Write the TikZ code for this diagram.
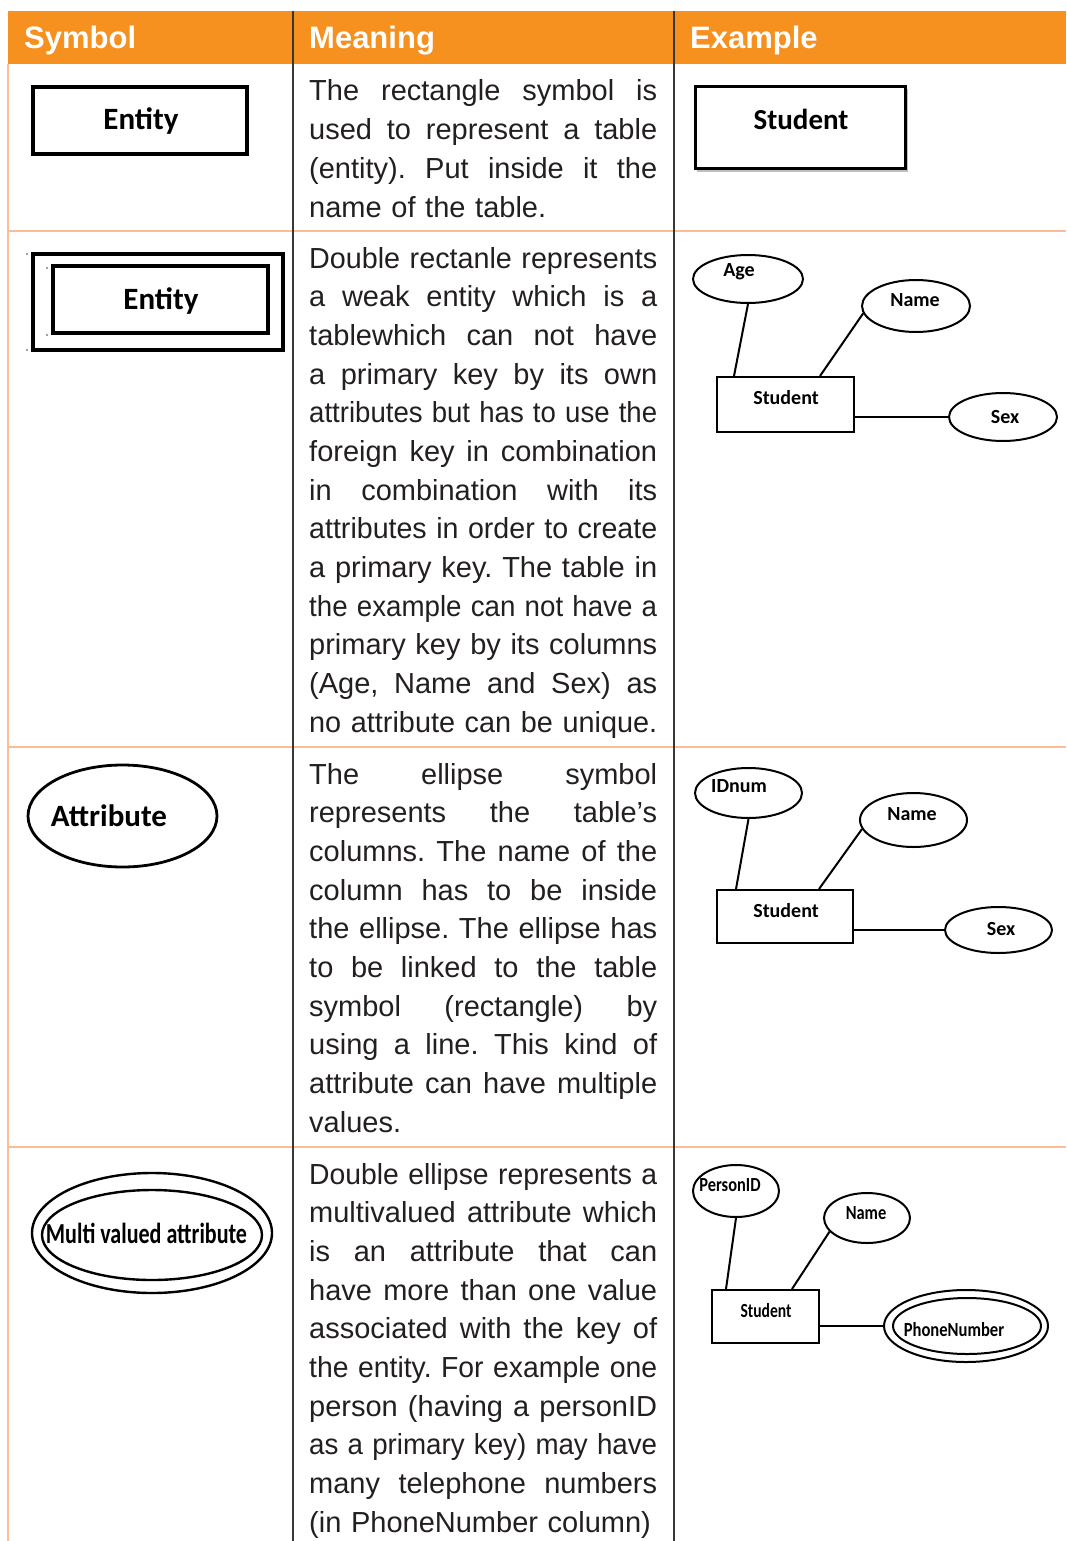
\documentclass[tikz,border=0pt]{standalone}
\usepackage{fontspec}
\setmainfont{Liberation Sans}
\newfontfamily\calib{Carlito}
\usepackage{graphicx}
\usetikzlibrary{shapes.geometric}

\definecolor{hdr}{RGB}{246,144,30}
\definecolor{peach}{RGB}{250,190,150}
\definecolor{rulec}{RGB}{55,55,55}
\definecolor{txt}{RGB}{35,31,32}

\frenchspacing
\newlength\colw \setlength\colw{348pt}
\newlength\lw
\newcommand\jl[1]{\leavevmode\settowidth\lw{#1}\ifdim\lw>\colw\scalebox{\fpeval{\number\colw/\number\lw}}[1]{#1}\else\hbox to\colw{\spaceskip=0.278em plus 1fil\relax\xspaceskip=\spaceskip #1}\fi}
\newcommand\el[1]{\leavevmode\settowidth\lw{#1}\ifdim\lw>\colw\scalebox{\fpeval{\number\colw/\number\lw}}[1]{#1}\else\hbox to\colw{#1\hfil}\fi}

\tikzset{
  box/.style 2 args={minimum width=#1pt, minimum height=#2pt},
  ent/.style={draw, rectangle, line width=2pt, inner sep=0pt},
  sym/.style={draw, rectangle, line width=3.2pt, inner sep=0pt},
  att/.style={draw, ellipse, line width=2pt, inner sep=0pt},
  symatt/.style={draw, ellipse, line width=2.8pt, inner sep=0pt},
  link/.style={line width=2pt},
  lbl/.style={inner sep=0pt, font=\calib\bfseries\fontsize{20pt}{20pt}\selectfont},
  biglbl/.style={inner sep=0pt, font=\calib\bfseries\fontsize{31pt}{31pt}\selectfont},
  hd/.style={inner sep=0pt, anchor=base west, text=white, font=\bfseries\fontsize{31pt}{31pt}\selectfont},
  body/.style={inner sep=0pt, anchor=base west, text width=\colw, align=left, text=txt,
     font=\fontsize{29pt}{38.67pt}\selectfont},
  prow/.style={draw=peach, line width=1.5pt},
  pcol/.style={draw=rulec, line width=1.3pt},
}

\begin{document}
\begin{tikzpicture}[x=1pt, y=-1pt]
\useasboundingbox (0,0) rectangle (1066,1541);
\fill[white] (0,0) rectangle (1066,1541);

% header
\fill[hdr] (8,11) rectangle (1066,64);
\node[hd] (h1) at (24,49) {Symbol};
\node[hd] (h2) at (309,49) {Meaning};
\node[hd] (h3) at (690,49) {Example};

% grid
\draw[prow] (8,64) -- (8,1541);
\draw[prow] (8,231) -- (1066,231);
\draw[prow] (8,747) -- (1066,747);
\draw[prow] (8,1147) -- (1066,1147);
\draw[pcol] (293,11) -- (293,1541);
\draw[pcol] (674,11) -- (674,1541);

% meaning texts
\node[body] (m1) at (309,101) {\jl{The rectangle symbol is}\\
\jl{used to represent a table}\\
\jl{(entity). Put inside it the}\\
\el{name of the table.}};

\node[body] (m2) at (309,268) {\jl{Double rectanle represents}\\
\jl{a weak entity which is a}\\
\jl{tablewhich can not have}\\
\jl{a primary key by its own}\\
\jl{attributes but has to use the}\\
\jl{foreign key in combination}\\
\jl{in combination with its}\\
\jl{attributes in order to create}\\
\jl{a primary key. The table in}\\
\jl{the example can not have a}\\
\jl{primary key by its columns}\\
\jl{(Age, Name and Sex) as}\\
\jl{no attribute can be unique.}};

\node[body] (m3) at (309,784) {\jl{The ellipse symbol}\\
\jl{represents the table’s}\\
\jl{columns. The name of the}\\
\jl{column has to be inside}\\
\jl{the ellipse. The ellipse has}\\
\jl{to be linked to the table}\\
\jl{symbol (rectangle) by}\\
\jl{using a line. This kind of}\\
\jl{attribute can have multiple}\\
\el{values.}};

\node[body] (m4) at (309,1184) {\jl{Double ellipse represents a}\\
\jl{multivalued attribute which}\\
\jl{is an attribute that can}\\
\jl{have more than one value}\\
\jl{associated with the key of}\\
\jl{the entity. For example one}\\
\jl{person (having a personID}\\
\jl{as a primary key) may have}\\
\jl{many telephone numbers}\\
\el{(in PhoneNumber column)}};

% symbols column
\node[sym, box={214}{67}] (e1) at (140,120.5) {};
\node[biglbl] (e1t) at (141,121) {Entity};

\node[sym, box={250}{96}] (e2o) at (158,302) {};
\node[sym, box={215}{67}] (e2i) at (160.5,299.5) {};
\node[biglbl] (e2t) at (161,301) {Entity};
\fill[gray] (27,254) circle (1.2) (27,350) circle (1.2) (47,268) circle (1.2) (47,335) circle (1.2);

\node[symatt, box={189}{102}] (a3) at (122.5,816) {};
\node[biglbl] (a3t) at (109,816) {Attribute};

\node[symatt, line width=2.4pt, box={240}{120}] (mv4o) at (152,1233) {};
\node[symatt, line width=2.4pt, box={220}{90}] (mv4i) at (152,1235) {};
\node[inner sep=0pt, font=\calib\bfseries\fontsize{29pt}{29pt}\selectfont] (mv4t) at (146.5,1233) {\scalebox{0.76}[1]{Multi valued attribute}};

% example row 1
\draw[gray!50, line width=1.5pt] (697,171) -- (907,171) -- (907,89);
\node[sym, line width=3pt, box={210}{82}] (s1) at (800,128) {};
\node[inner sep=0pt, font=\calib\bfseries\fontsize{29pt}{29pt}\selectfont] (s1t) at (801,119) {Student};

% example row 2
\node[ent, box={137}{55}] (st2) at (785.5,404.5) {};
\node[att, box={110}{48}] (age2) at (748,279) {};
\node[att, box={108}{52}] (nm2) at (916,306) {};
\node[att, box={108}{48}] (sx2) at (1003,417) {};
\node[lbl] (age2t) at (739,272) {Age};
\node[lbl] (nm2t) at (915,300) {Name};
\node[lbl] (st2t) at (786,398) {Student};
\node[lbl] (sx2t) at (1005,417) {Sex};
\draw[link] (age2.south) -- ([xshift=18pt]st2.north west);
\draw[link] (nm2.188) -- ([xshift=104pt]st2.north west);
\draw[link] (sx2.west) -- (sx2.west -| st2.east);

% example row 3
\node[ent, box={136}{53}] (st3) at (785,916.5) {};
\node[att, box={107}{50}] (id3) at (748.5,793) {};
\node[att, box={107}{54}] (nm3) at (913.5,820) {};
\node[att, box={107}{46}] (sx3) at (998.5,930) {};
\node[lbl] (id3t) at (739,786) {IDnum};
\node[lbl] (nm3t) at (912,814) {Name};
\node[lbl] (st3t) at (786,911) {Student};
\node[lbl] (sx3t) at (1001,929) {Sex};
\draw[link] (id3.south) -- ([xshift=20pt]st3.north west);
\draw[link] (nm3.190) -- ([xshift=103pt]st3.north west);
\draw[link] (sx3.west) -- (sx3.west -| st3.east);

% example row 4
\node[ent, box={107}{53}] (st4) at (765.5,1316.5) {};
\node[att, box={86}{52}] (pid4) at (736,1191) {};
\node[att, box={86}{50}] (nm4) at (867,1218) {};
\node[att, box={164}{72}] (ph4o) at (966,1326) {};
\node[att, box={148}{56}] (ph4i) at (967,1326) {};
\node[lbl] (pid4t) at (730,1185) {\scalebox{0.82}[1]{PersonID}};
\node[lbl] (nm4t) at (866,1213) {\scalebox{0.82}[1]{Name}};
\node[lbl] (st4t) at (766,1311) {\scalebox{0.78}[1]{Student}};
\node[lbl] (ph4t) at (954,1330) {\scalebox{0.83}[1]{PhoneNumber}};
\draw[link] (pid4.south) -- ([xshift=15pt]st4.north west);
\draw[link] (nm4.200) -- ([xshift=81pt]st4.north west);
\draw[link] (ph4o.west) -- (ph4o.west -| st4.east);
\end{tikzpicture}
\end{document}
